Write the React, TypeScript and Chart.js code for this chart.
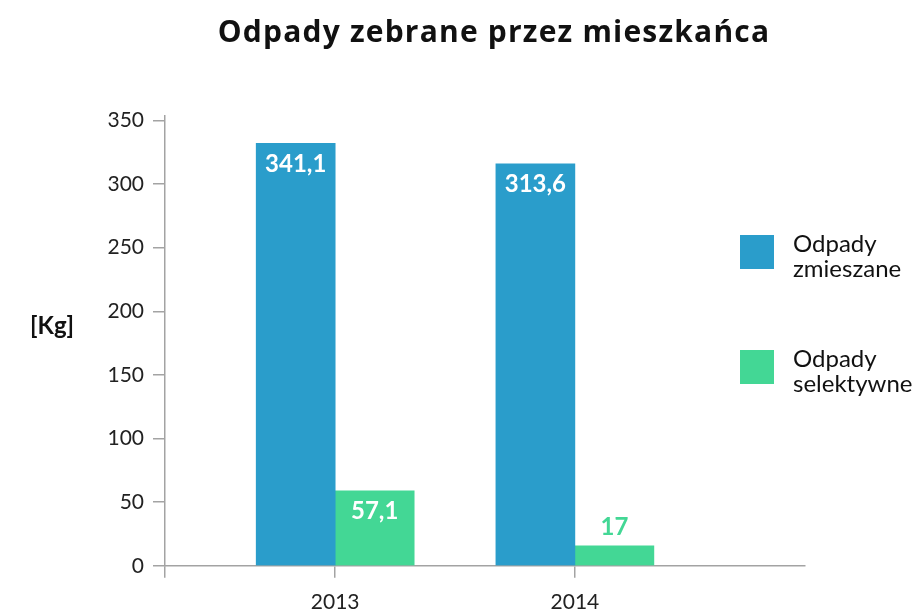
import { useEffect, useRef } from 'react';
import { Chart, registerables } from 'chart.js';

Chart.register(...registerables);

const TITLE = 'Odpady zebrane przez mieszkańca';
const Y_UNIT = '[Kg]';
const years = [2013, 2014];
const seriesNames = ['Odpady zmieszane', 'Odpady selektywne'];
const legendLines = [['Odpady', 'zmieszane'], ['Odpady', 'selektywne']];
const mixedValues = [332, 316];
const selectiveValues = [59, 15.7];
const mixedLabels = ['341,1', '313,6'];
const selectiveLabels = ['57,1', '17'];
const yTickValues = [0, 50, 100, 150, 200, 250, 300, 350];
const colors = ['#2A9DCB', '#43D795'];

const FONT = 'Lato';
const TITLE_FONT = '"Open Sans"';
const X_MIN = 2012.29;
const X_MAX = 2014.96;
const AXIS_COLOR = '#a3a3a3';

const overlayPlugin = {
  id: 'overlay',
  afterDraw(chart: any) {
    const ctx = chart.ctx as CanvasRenderingContext2D;
    ctx.save();
    // title
    ctx.fillStyle = '#111';
    ctx.font = `bold 30px ${TITLE_FONT}`;
    (ctx as any).letterSpacing = '1.2px';
    ctx.textAlign = 'center';
    ctx.textBaseline = 'alphabetic';
    ctx.fillText(TITLE, 494, 42);
    (ctx as any).letterSpacing = '0px';
    // unit label
    ctx.font = `bold 24px ${FONT}`;
    ctx.textBaseline = 'middle';
    ctx.fillText(Y_UNIT, 52, 326);
    // data labels
    const labelSets = [mixedLabels, selectiveLabels];
    chart.data.datasets.forEach((ds: any, di: number) => {
      const meta = chart.getDatasetMeta(di);
      meta.data.forEach((bar: any, i: number) => {
        const h = bar.base - bar.y;
        ctx.font = `bold 24px ${FONT}`;
        ctx.textAlign = 'center';
        ctx.textBaseline = 'middle';
        if (h > 40) {
          ctx.fillStyle = '#ffffff';
          ctx.fillText(labelSets[di][i], bar.x, bar.y + 21);
        } else {
          ctx.fillStyle = ds.backgroundColor;
          ctx.fillText(labelSets[di][i], bar.x, bar.y - 19);
        }
      });
    });
    // legend
    const itemTops = [235, 350];
    chart.data.datasets.forEach((ds: any, di: number) => {
      const top = itemTops[di];
      ctx.fillStyle = ds.backgroundColor;
      ctx.fillRect(740, top, 34, 34);
      ctx.fillStyle = '#111';
      ctx.font = `24px ${FONT}`;
      ctx.textAlign = 'left';
      ctx.textBaseline = 'alphabetic';
      legendLines[di].forEach((line, li) => {
        ctx.fillText(line, 793, top + 17 + li * 25);
      });
    });
    ctx.restore();
  },
};

export default function App() {
  const ref = useRef<HTMLCanvasElement>(null);
  useEffect(() => {
    document.body.style.margin = '0';
    const canvas = ref.current!;
    const chart = new Chart(canvas, {
      type: 'bar',
      data: {
        datasets: [
          {
            label: seriesNames[0],
            data: years.map((y, i) => ({ x: y, y: mixedValues[i] })),
            backgroundColor: colors[0],
            barThickness: 79,
          },
          {
            label: seriesNames[1],
            data: years.map((y, i) => ({ x: y, y: selectiveValues[i] })),
            backgroundColor: colors[1],
            barThickness: 79,
          },
        ],
      },
      options: {
        animation: false,
        responsive: false,
        layout: { padding: { top: 116, right: 118, bottom: -18, left: 66 } },
        plugins: {
          legend: { display: false },
          title: { display: false },
          tooltip: { enabled: false },
        },
        scales: {
          x: {
            type: 'linear',
            min: X_MIN,
            max: X_MAX,
            offset: false,
            afterBuildTicks: (s: any) => {
              s.ticks = [{ value: X_MIN }, ...years.map((v) => ({ value: v }))];
            },
            grid: { offset: false, drawOnChartArea: false, tickLength: 12, color: AXIS_COLOR, lineWidth: 1.5 },
            border: { color: AXIS_COLOR, width: 1.5 },
            ticks: {
              autoSkip: false,
              maxRotation: 0,
              padding: 12,
              color: '#222',
              font: { family: FONT, size: 21 },
              callback: (v: any) => (years.includes(v) ? String(v) : ''),
            },
          },
          y: {
            min: 0,
            max: 353.5,
            afterBuildTicks: (s: any) => {
              s.ticks = yTickValues.map((v) => ({ value: v }));
            },
            afterFit: (s: any) => {
              s.width = 99;
            },
            grid: { drawOnChartArea: false, tickLength: 12, color: AXIS_COLOR, lineWidth: 1.5 },
            border: { color: AXIS_COLOR, width: 1.5 },
            ticks: {
              padding: 9,
              color: '#222',
              font: { family: FONT, size: 21 },
              callback: (v: any) => String(v),
            },
          },
        },
      },
      plugins: [overlayPlugin],
    } as any);
    return () => chart.destroy();
  }, []);
  return <canvas ref={ref} width={923} height={609} style={{ display: 'block' }} />;
}
